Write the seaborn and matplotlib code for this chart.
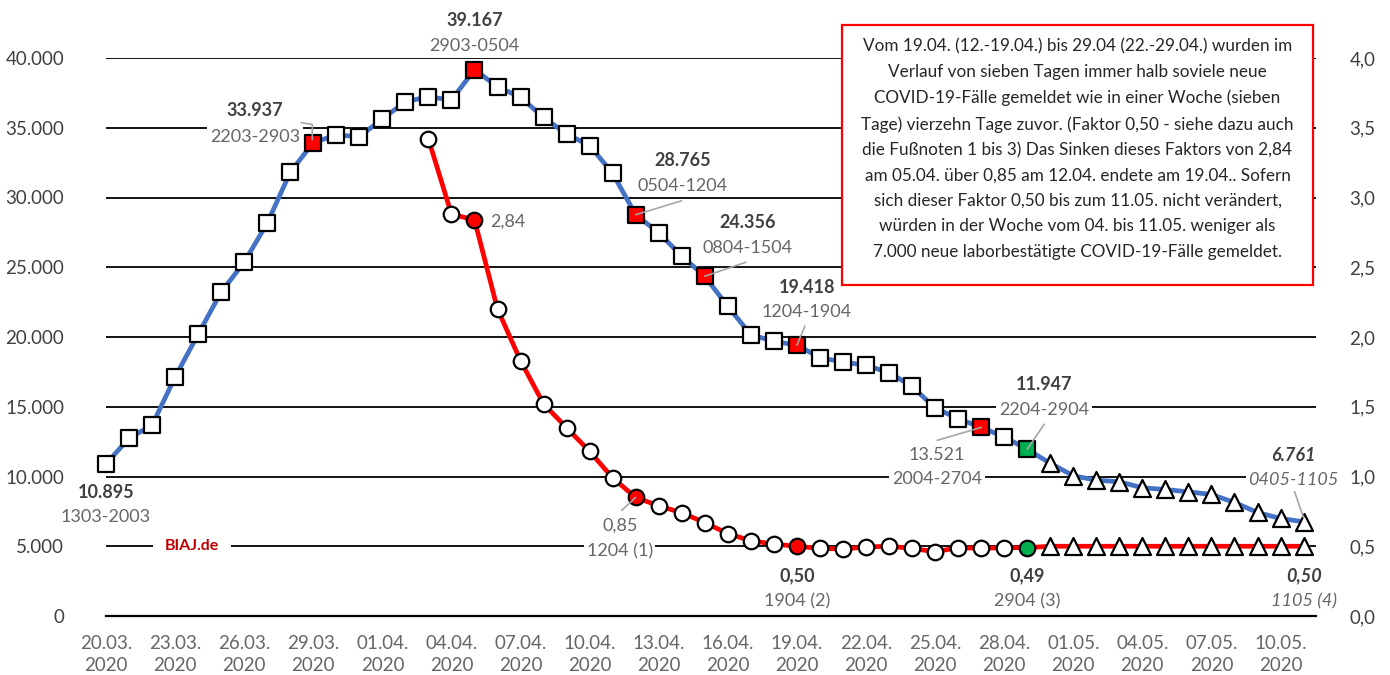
import numpy as np
import pandas as pd
import matplotlib
matplotlib.use("Agg")
import matplotlib.pyplot as plt
import matplotlib.dates as mdates
from matplotlib.patches import Rectangle
from matplotlib.ticker import FuncFormatter
import seaborn as sns

# --- data ---
dates = pd.date_range("2020-03-20", "2020-05-11", freq="D")

# new cases in the 7 days up to each date (left axis)
cases = [10895, 12750, 13670, 17130, 20200, 23220, 25360, 28160, 31810, 33937,
         34480, 34360,
         35630, 36870, 37220, 36990, 39167, 37940, 37180, 35740, 34550, 33720,
         31730, 28765, 27470, 25800, 24356, 22190, 20160, 19690, 19418, 18520,
         18210, 17970, 17450, 16460, 14910, 14150, 13521, 12840, 11947, 10950,
         10050, 9740, 9620, 9190, 9070, 8900, 8710, 8140, 7420, 6990, 6761]

# factor vs. the week 14 days before (right axis), from 03.04.
factor_start = "2020-04-03"
factor = [3.42, 2.88, 2.84, 2.20, 1.83, 1.52, 1.35, 1.18, 0.99, 0.85, 0.79,
          0.74, 0.67, 0.59, 0.54, 0.515, 0.50, 0.485, 0.48, 0.495, 0.50,
          0.485, 0.46, 0.49, 0.485, 0.49, 0.49,
          0.50, 0.50, 0.50, 0.50, 0.50, 0.50, 0.50, 0.50, 0.50, 0.50, 0.50, 0.50]

projection_start = "2020-04-30"
cases_red = ["2020-03-29", "2020-04-05", "2020-04-12", "2020-04-15",
             "2020-04-19", "2020-04-27"]
factor_red = ["2020-04-05", "2020-04-12", "2020-04-19"]
green_day = "2020-04-29"

tick_dates = dates[::3]
tick_labels = [d.strftime("%d.%m.\n%Y") for d in tick_dates]

# labels: (date, value text, range text, style)
case_labels = [
    ("2020-03-20", "10.895", "1303-2003", "bold"),
    ("2020-03-29", "33.937", "2203-2903", "bold"),
    ("2020-04-05", "39.167", "2903-0504", "bold"),
    ("2020-04-12", "28.765", "0504-1204", "bold"),
    ("2020-04-15", "24.356", "0804-1504", "bold"),
    ("2020-04-19", "19.418", "1204-1904", "bold"),
    ("2020-04-27", "13.521", "2004-2704", "normal"),
    ("2020-04-29", "11.947", "2204-2904", "bold"),
    ("2020-05-11", "6.761", "0405-1105", "italic"),
]
factor_labels = [
    ("2020-04-05", "2,84", "", "normal"),
    ("2020-04-12", "0,85", "1204 (1)", "normal"),
    ("2020-04-19", "0,50", "1904 (2)", "bold"),
    ("2020-04-29", "0,49", "2904 (3)", "bold"),
    ("2020-05-11", "0,50", "1105 (4)", "italic"),
]

# pixel offsets of label text and leader lines (value, range, leader points)
case_offsets = [
    ((0, -28), (0, -53), None),
    ((-58, 32), (-58, 6), [(-12, 20), (-1, 18), (-1, 3)]),
    ((0, 49), (0, 24), None),
    ((47, 54), (47, 29), [(46, 14), (0, 0)]),
    ((43, 54), (43, 28), [(41, 14), (0, 0)]),
    ((10, 58), (10, 33), [(8, 19), (0, 0)]),
    ((-44, -28), (-44, -52), [(-44, -13), (0, 0)]),
    ((17, 65), (17, 39), [(17, 25), (0, 0)]),
    ((-10, 66), (-10, 42), [(-9, 30), (0, 4)]),
]
factor_offsets = [
    ((16, -2), None, None),
    ((-16, -28), (-16, -54), [(-14, -13), (0, 0)]),
    ((0, -29), (0, -55), None),
    ((0, -28), (0, -54), None),
    ((0, -29), (0, -55), None),
]

box_text = ("Vom 19.04. (12.-19.04.) bis 29.04 (22.-29.04.) wurden im\n"
            "Verlauf von sieben Tagen immer halb soviele neue\n"
            "COVID-19-Fälle gemeldet wie in einer Woche (sieben\n"
            "Tage) vierzehn Tage zuvor. (Faktor 0,50 - siehe dazu auch\n"
            "die Fußnoten 1 bis 3) Das Sinken dieses Faktors von 2,84\n"
            "am 05.04. über 0,85 am 12.04. endete am 19.04.. Sofern\n"
            "sich dieser Faktor 0,50 bis zum 11.05. nicht verändert,\n"
            "würden in der Woche vom 04. bis 11.05. weniger als\n"
            "7.000 neue laborbestätigte COVID-19-Fälle gemeldet.")

# --- frames ---
df_cases = pd.DataFrame({"date": dates, "value": cases})
df_factor = pd.DataFrame({"date": dates[dates >= factor_start], "value": factor})


def add_marks(df, red_days):
    df = df.copy()
    df["proj"] = df["date"] >= pd.Timestamp(projection_start)
    df["fill"] = "white"
    df.loc[df["date"].isin(pd.to_datetime(red_days)), "fill"] = "#FF0000"
    df.loc[df["date"] == pd.Timestamp(green_day), "fill"] = "#00B050"
    return df


df_cases = add_marks(df_cases, cases_red)
df_factor = add_marks(df_factor, factor_red)

# --- style ---
sns.set_theme(style="white")
plt.rcParams["font.family"] = ["Lato", "DejaVu Sans"]

BLUE = "#4472C4"
RED = "#FF0000"
DARK = "#404040"
GREY = "#666666"
FS = 13

fig = plt.figure(figsize=(13.9, 6.75), dpi=100)
ax = fig.add_axes([106 / 1390, 1 - 616 / 675, 1210 / 1390, 558 / 675])
ax2 = ax.twinx()

x0 = dates[0]
ax.set_ylim(0, 40000)
ax2.set_ylim(0, 4)

# gridlines
ax.set_axisbelow(True)
ax.yaxis.grid(True, color="black", linewidth=1.3)
ax.xaxis.grid(False)
ax.set_yticks(np.arange(0, 40001, 5000))
ax2.set_yticks(np.arange(0, 4.01, 0.5))
ax2.grid(False)

# lines
sns.lineplot(data=df_cases, x="date", y="value", ax=ax, color=BLUE,
             linewidth=3.4, zorder=3)
sns.lineplot(data=df_factor, x="date", y="value", ax=ax2, color=RED,
             linewidth=3.4, zorder=3)

# markers
for df, axis, base in [(df_cases, ax, "s"), (df_factor, ax2, "o")]:
    for (proj, fill), grp in df.groupby(["proj", "fill"]):
        marker = "^" if proj else base
        size = 150 if proj else (135 if base == "s" else 125)
        sns.scatterplot(data=grp, x="date", y="value", ax=axis, marker=marker,
                        s=size, color=fill, edgecolor="black", linewidth=1.6,
                        zorder=4, clip_on=False, legend=False)

ax.set_xlim(x0, x0 + pd.Timedelta(days=52.54))

# axes cosmetics
for s in ["top", "left", "right"]:
    ax.spines[s].set_visible(False)
for s in ax2.spines.values():
    s.set_visible(False)
ax.spines["bottom"].set_color("black")
ax.spines["bottom"].set_linewidth(1.6)

ax.set_xticks(tick_dates)
ax.set_xticklabels(tick_labels)
for lab in ax.get_xticklabels():
    lab.set_linespacing(1.3)
ax.tick_params(axis="x", direction="in", length=5, width=1.4, color="black",
               pad=14, labelsize=13.5, labelcolor=GREY)
ax.tick_params(axis="y", length=0, pad=30, labelsize=13.5, labelcolor=DARK)
ax2.tick_params(axis="y", length=0, pad=24, labelsize=13.5, labelcolor=DARK)
ax.yaxis.set_major_formatter(FuncFormatter(lambda v, p: f"{int(v):,}".replace(",", ".")))
ax2.yaxis.set_major_formatter(FuncFormatter(lambda v, p: f"{v:.1f}".replace(".", ",")))
ax.set_xlabel("")
ax.set_ylabel("")
ax2.set_ylabel("")

# --- data labels ---
fig.canvas.draw()
bg = dict(boxstyle="square,pad=0.15", facecolor="white", edgecolor="none")


def put_labels(axis, df, labels, offsets):
    for (day, val, rng, style), (voff, roff, lead) in zip(labels, offsets):
        d = pd.Timestamp(day)
        y = df.loc[df["date"] == d, "value"].iloc[0]
        xy = (mdates.date2num(d), y)
        weight = "normal" if style == "normal" else "bold"
        fstyle = "italic" if style == "italic" else "normal"
        vcol = GREY if style == "normal" else DARK
        ha = "left" if rng == "" else "center"
        axis.annotate(val, xy, xytext=voff, textcoords="offset pixels",
                      ha=ha, va="center", fontsize=FS, color=vcol,
                      fontweight=weight, fontstyle=fstyle, bbox=bg, zorder=6,
                      annotation_clip=False)
        if rng:
            axis.annotate(rng, xy, xytext=roff, textcoords="offset pixels",
                          ha="center", va="center", fontsize=FS, color=GREY,
                          fontstyle=fstyle, bbox=bg, zorder=6,
                          annotation_clip=False)
        if lead:
            px, py = axis.transData.transform(xy)
            xs = [px + dx for dx, dy in lead]
            ys = [py + dy for dx, dy in lead]
            fig.add_artist(plt.Line2D(xs, ys, transform=None, color="#A6A6A6",
                                      linewidth=1.2, zorder=5))


put_labels(ax, df_cases, case_labels, case_offsets)
put_labels(ax2, df_factor, factor_labels, factor_offsets)

ax.text(x0 + pd.Timedelta(days=3.73), 5000, "BIAJ.de", ha="center", va="center",
        fontsize=11.5, fontweight="bold", color="#C00000", zorder=6,
        bbox=dict(boxstyle="square,pad=0.75", facecolor="white", edgecolor="none"))

# --- text box ---
fig.add_artist(Rectangle((842 / 1390, 1 - 285 / 675), 471 / 1390, 260 / 675,
                         transform=fig.transFigure, facecolor="white",
                         edgecolor=RED, linewidth=1.6, zorder=1))
fig.text(1077.5 / 1390, 1 - 149.2 / 675, box_text, ha="center", va="center",
         fontsize=12.3, color="#262626", linespacing=1.72, zorder=3)

fig.savefig("out.png", dpi=100)
